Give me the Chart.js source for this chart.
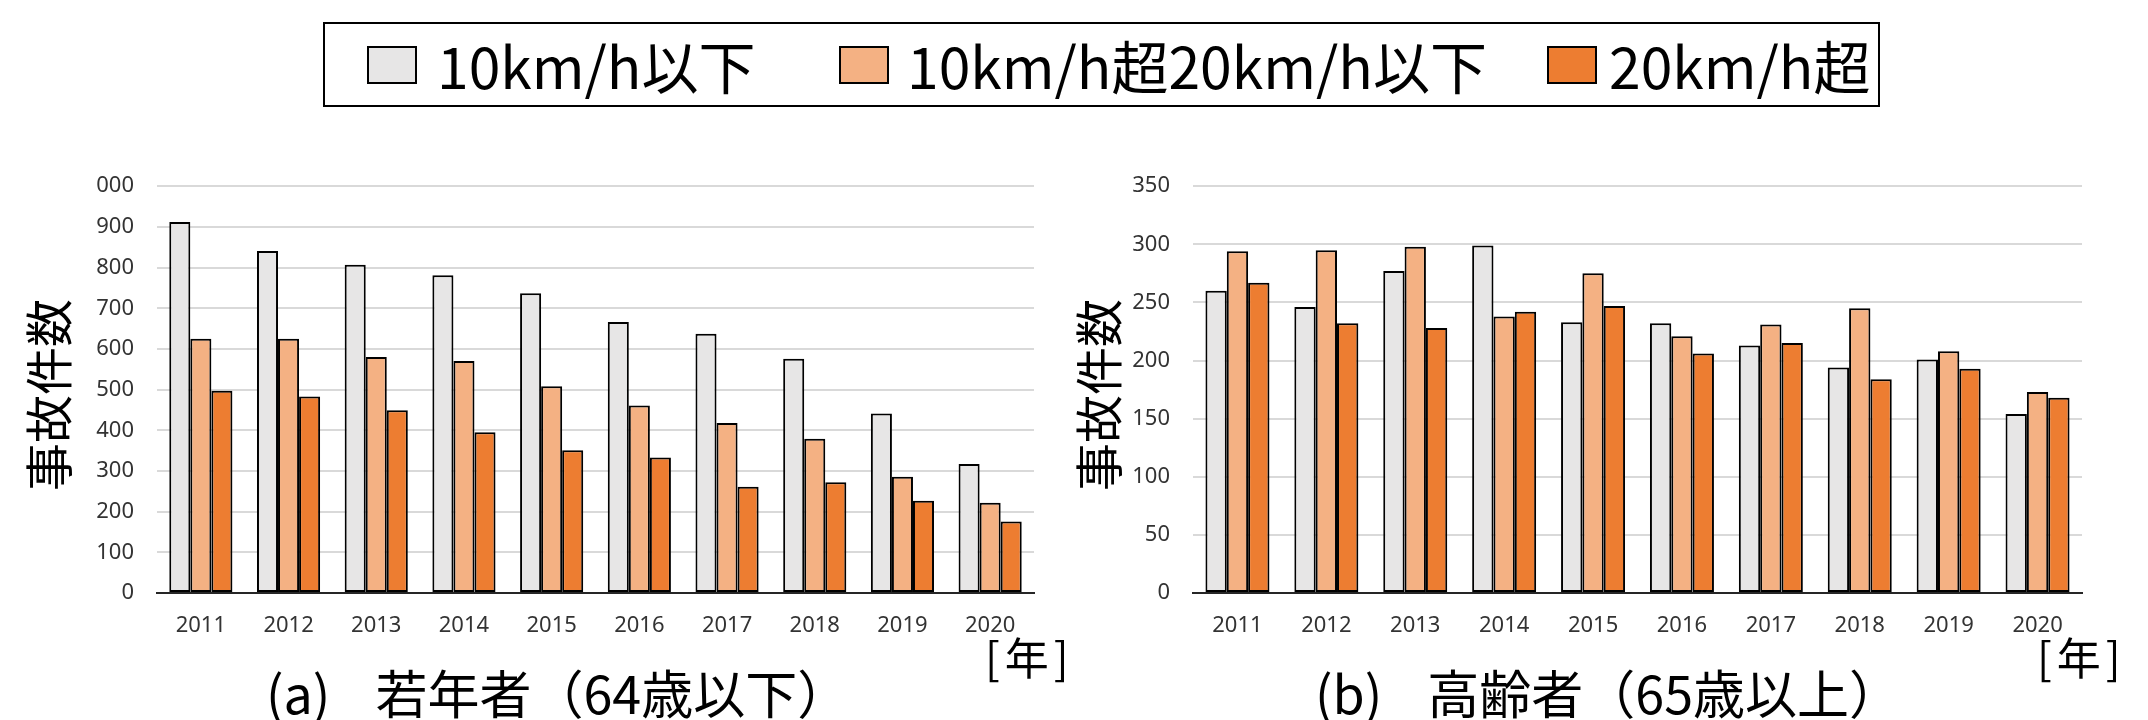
<!DOCTYPE html>
<html>
<head>
<meta charset="UTF-8">
<title>速度別事故件数</title>
<script src="https://cdn.jsdelivr.net/npm/chart.js@4"></script>
<style>
  body { margin: 0; width: 2148px; height: 720px; position: relative; overflow: hidden; background: #fff; font-family: "Noto Sans CJK JP", sans-serif; }
  canvas { position: absolute; top: 150px; }
  #young { left: 0; }
  #elder { left: 1050px; }
  .legend { position: absolute; left: 323px; top: 22px; width: 1553px; height: 81px; border: 2px solid #000; }
  .item { position: absolute; top: 0; height: 81px; display: flex; align-items: center; font-size: 57px; line-height: 1; white-space: nowrap; }
  .swatch { width: 46px; height: 34px; border: 2px solid #000; }
  .caption { position: absolute; top: 666px; font-size: 52px; line-height: 1; white-space: nowrap; }
  .caption .gap { margin-left: 45px; }
  .unit { position: absolute; top: 634px; font-size: 44px; line-height: 1; letter-spacing: 5px; }
</style>
</head>
<body>
<div class="legend" id="legend"></div>
<canvas id="young" width="1050" height="500"></canvas>
<canvas id="elder" width="1050" height="500"></canvas>
<div class="unit" style="left:985px">[年]</div>
<div class="unit" style="left:2037px">[年]</div>
<div class="caption" style="left:266px">(a)<span class="gap">若年者（64歳以下）</span></div>
<div class="caption" style="left:1315px">(b)<span class="gap">高齢者（65歳以上）</span></div>

<script>
const years = ['2011', '2012', '2013', '2014', '2015', '2016', '2017', '2018', '2019', '2020'];
const seriesNames = ['10km/h以下', '10km/h超20km/h以下', '20km/h超'];
const seriesColors = ['#E7E6E6', '#F4B183', '#ED7D31'];

// (a) 若年者（64歳以下）
const youngLow  = [912, 841, 807, 781, 737, 666, 637, 576, 441, 317];
const youngMid  = [625, 625, 580, 570, 508, 461, 418, 379, 286, 222];
const youngHigh = [497, 483, 449, 395, 351, 333, 261, 272, 227, 176];

// (b) 高齢者（65歳以上）
const elderLow  = [260, 246, 277, 299, 233, 232, 213, 194, 201, 154];
const elderMid  = [294, 295, 298, 238, 275, 221, 231, 245, 208, 173];
const elderHigh = [267, 232, 228, 242, 247, 206, 215, 184, 193, 168];

const youngTicks = [0, 100, 200, 300, 400, 500, 600, 700, 800, 900, 1000];
const elderTicks = [0, 50, 100, 150, 200, 250, 300, 350];

// legend, spacing follows the original box
const legendLeft = [42, 514, 1222];
const legendGap = [20, 18, 12];
const legend = document.getElementById('legend');
seriesNames.forEach((name, i) => {
    const item = document.createElement('div');
    item.className = 'item';
    item.style.left = legendLeft[i] + 'px';
    item.innerHTML = `<span class="swatch" style="background:${seriesColors[i]};margin-right:${legendGap[i]}px"></span><span>${name}</span>`;
    legend.appendChild(item);
});

const tickFont = { family: 'Noto Sans', size: 22 };

function makeChart(id, values, ticks, yWidth, padRight) {
    const top = ticks[ticks.length - 1];
    return new Chart(id, {
        type: 'bar',
        data: {
            labels: years,
            datasets: values.map((v, i) => ({
                label: seriesNames[i],
                data: v,
                backgroundColor: seriesColors[i],
                borderColor: '#000',
                borderWidth: 2,
                borderSkipped: false
            }))
        },
        options: {
            responsive: false,
            animation: false,
            layout: { padding: { top: 29, right: padRight, left: 0, bottom: 0 } },
            datasets: { bar: { categoryPercentage: 0.72, barPercentage: 1 } },
            plugins: {
                legend: { display: false },
                tooltip: { enabled: false }
            },
            scales: {
                x: {
                    grid: { display: false, drawTicks: false },
                    border: { display: true, color: '#262626', width: 2 },
                    ticks: { font: tickFont, color: '#333', padding: 20, maxRotation: 0 },
                    afterFit: s => { s.height = 57; }
                },
                y: {
                    min: 0,
                    max: top,
                    afterBuildTicks: s => { s.ticks = ticks.map(v => ({ value: v })); },
                    grid: { color: '#D9D9D9', lineWidth: 2, drawTicks: false },
                    border: { display: false },
                    ticks: {
                        font: tickFont,
                        color: '#333',
                        padding: 23,
                        // the top label is cut off in the original
                        callback: v => (v === 1000 ? '000' : v)
                    },
                    title: {
                        display: true,
                        // trailing space nudges the rotated title a little lower
                        text: '事故件数 ',
                        color: '#000',
                        font: { family: 'Noto Sans CJK JP', size: 48 },
                        padding: { top: 20, bottom: 0 }
                    },
                    afterFit: s => { s.width = yWidth; }
                }
            }
        }
    });
}

makeChart('young', [youngLow, youngMid, youngHigh], youngTicks, 157, 16);
makeChart('elder', [elderLow, elderMid, elderHigh], elderTicks, 143, 18);
</script>
</body>
</html>
